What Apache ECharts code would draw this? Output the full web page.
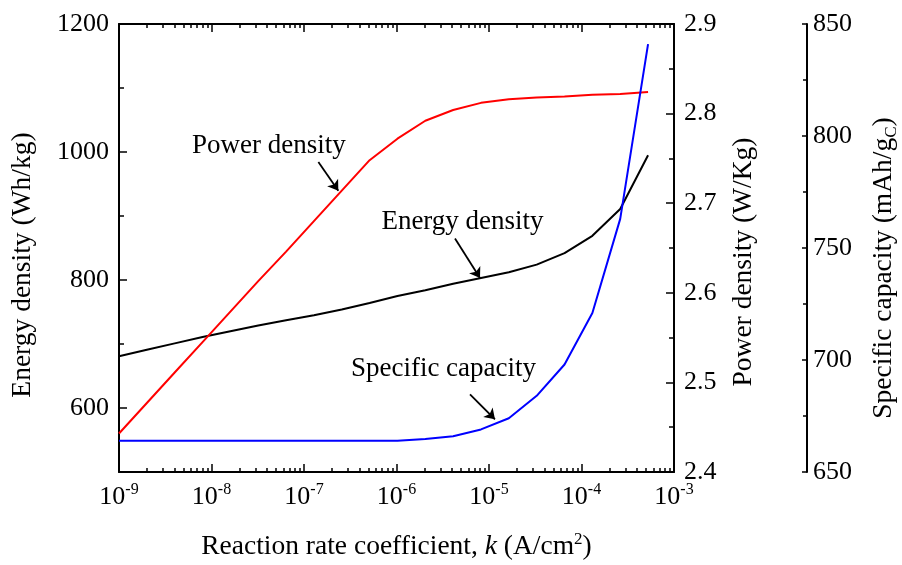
<!DOCTYPE html>
<html>
<head>
<meta charset="utf-8">
<title>Energy / power density vs reaction rate coefficient</title>
<script src="https://cdn.jsdelivr.net/npm/echarts@6.0.0/dist/echarts.min.js"></script>
</head>
<body style="margin:0;background:#fff;">
<div id="main" style="width:902px;height:565px;"></div>
<script type="text/javascript">
// reaction rate coefficient k (A/cm2), doubling steps from 1e-9
var kValues = [1e-9, 2e-9, 4e-9, 8e-9, 1.6e-8, 3.2e-8, 6.4e-8, 1.28e-7, 2.56e-7, 5.12e-7,
               1.024e-6, 2.048e-6, 4.096e-6, 8.192e-6, 1.6384e-5, 3.2768e-5, 6.5536e-5,
               1.31072e-4, 2.62144e-4, 5.24288e-4];
var energyDensity = [681, 691, 701, 711, 720, 729, 737, 745, 754, 764,
                     775, 784, 794, 803, 812, 824, 842, 869, 911, 995];
var powerDensity = [2.443, 2.477, 2.511, 2.545, 2.579, 2.613, 2.646, 2.680, 2.714, 2.748,
                    2.772, 2.792, 2.804, 2.812, 2.816, 2.818, 2.819, 2.821, 2.822, 2.824];
var specificCapacity = [664, 664, 664, 664, 664, 664, 664, 664, 664, 664,
                        664, 664.7, 666, 669, 674, 684, 698, 721, 763, 841];

// tick labels
var energyTicks = [600, 800, 1000, 1200];
var energyMinorTicks = [700, 900, 1100];

// annotations: text position and arrow [tail, head], in data units
var powerNote = {text: 'Power density', at: [4.18e-8, 2.764], tail: [1.43e-7, 2.746], head: [2.35e-7, 2.714]};
var energyNote = {text: 'Energy density', at: [5.17e-6, 890], tail: [4.29e-6, 865], head: [7.99e-6, 803]};
var capacityNote = {text: 'Specific capacity', at: [3.22e-6, 696], tail: [6.23e-6, 684.7], head: [1.16e-5, 673.5]};

var FONT = "'Liberation Serif', 'Times New Roman', serif";
var BLACK = '#000';
var TITLE_SIZE = 27.5;

// minor log ticks (2..9 x decade) as log10 values for overlay axes
var minorLog = [];
for (var d = -9; d < -3; d++) {
    for (var m = 2; m <= 9; m++) minorLog.push(d + Math.log10(m));
}

function pairs(ys) {
    return kValues.map(function (k, i) { return [k, ys[i]]; });
}

function note(n) {
    return {
        markLine: {
            silent: true,
            symbol: ['none', 'arrow'],
            symbolSize: 10,
            lineStyle: {color: BLACK, width: 1.8, type: 'solid'},
            label: {show: false},
            data: [[{coord: n.tail}, {coord: n.head}]]
        },
        markPoint: {
            silent: true,
            symbol: 'circle',
            symbolSize: 1,
            itemStyle: {color: 'transparent'},
            label: {show: true, position: 'inside', formatter: n.text, color: BLACK,
                    fontSize: 27, fontFamily: FONT},
            data: [{coord: n.at}]
        }
    };
}

var axisLine = {show: true, lineStyle: {color: BLACK, width: 2}};

var mychart = echarts.init(document.getElementById('main'));
var option = {
    animation: false,
    backgroundColor: '#fff',
    grid: {left: 119, right: 228, top: 24, bottom: 93, outerBoundsMode: 'none', containLabel: false},
    xAxis: [
        {
            type: 'log', logBase: 10, min: 1e-9, max: 1e-3, position: 'bottom',
            axisLine: axisLine,
            axisTick: {inside: true, length: 8, lineStyle: {color: BLACK, width: 1.5}},
            splitLine: {show: false},
            axisLabel: {
                margin: 10,
                formatter: function (v) {
                    var e = Math.round(Math.log10(v));
                    return '{b|10}{s|' + e + '}';
                },
                rich: {
                    b: {fontSize: 26, fontFamily: FONT, color: BLACK, lineHeight: 30},
                    s: {fontSize: 16, fontFamily: FONT, color: BLACK, verticalAlign: 'top', lineHeight: 30}
                }
            },
            name: 'Reaction rate coefficient, {i|k} (A/cm{s|2})',
            nameLocation: 'middle',
            nameGap: 59,
            nameTextStyle: {
                fontSize: TITLE_SIZE, fontFamily: FONT, color: BLACK,
                rich: {
                    i: {fontSize: TITLE_SIZE, fontFamily: FONT, fontStyle: 'italic', color: BLACK, lineHeight: 32},
                    s: {fontSize: 17, fontFamily: FONT, color: BLACK, verticalAlign: 'top', lineHeight: 32}
                }
            }
        },
        {
            type: 'log', logBase: 10, min: 1e-9, max: 1e-3, position: 'top',
            axisLine: axisLine,
            axisTick: {inside: true, length: 8, lineStyle: {color: BLACK, width: 1.5}},
            axisLabel: {show: false},
            splitLine: {show: false}
        },
        {
            type: 'value', min: -9, max: -3, position: 'bottom',
            axisLine: {show: false},
            axisLabel: {show: false},
            splitLine: {show: false},
            axisTick: {inside: true, length: 4, customValues: minorLog, lineStyle: {color: BLACK, width: 1.5}}
        },
        {
            type: 'value', min: -9, max: -3, position: 'top',
            axisLine: {show: false},
            axisLabel: {show: false},
            splitLine: {show: false},
            axisTick: {inside: true, length: 4, customValues: minorLog, lineStyle: {color: BLACK, width: 1.5}}
        }
    ],
    yAxis: [
        {
            type: 'value', min: 500, max: 1200, position: 'left',
            axisLine: axisLine,
            splitLine: {show: false},
            axisTick: {inside: true, length: 8, customValues: energyTicks, lineStyle: {color: BLACK, width: 1.5}},
            axisLabel: {
                customValues: energyTicks, margin: 10, fontSize: 26, fontFamily: FONT, color: BLACK,
                formatter: function (v) { return String(v); }
            },
            name: 'Energy density (Wh/kg)',
            nameLocation: 'middle', nameRotate: 90, nameGap: 82,
            nameTextStyle: {fontSize: TITLE_SIZE, fontFamily: FONT, color: BLACK, padding: [0, 34, 0, 0]}
        },
        {
            type: 'value', min: 500, max: 1200, position: 'left',
            axisLine: {show: false},
            splitLine: {show: false},
            axisLabel: {show: false},
            axisTick: {inside: true, length: 5, customValues: energyMinorTicks, lineStyle: {color: BLACK, width: 1.5}}
        },
        {
            type: 'value', min: 2.4, max: 2.9, interval: 0.1, position: 'right',
            axisLine: axisLine,
            splitLine: {show: false},
            axisTick: {inside: true, length: 8, lineStyle: {color: BLACK, width: 1.5}},
            minorTick: {show: true, splitNumber: 2, length: 5, lineStyle: {color: BLACK, width: 1.5}},
            axisLabel: {
                margin: 10, fontSize: 26, fontFamily: FONT, color: BLACK,
                formatter: function (v) { return v.toFixed(1); }
            },
            name: 'Power density (W/Kg)',
            nameLocation: 'middle', nameRotate: 90, nameGap: 56,
            nameTextStyle: {fontSize: TITLE_SIZE, fontFamily: FONT, color: BLACK, padding: [0, 28, 0, 0]}
        },
        {
            type: 'value', min: 650, max: 850, interval: 50, position: 'right', offset: 133,
            axisLine: axisLine,
            splitLine: {show: false},
            axisTick: {inside: true, length: 5, lineStyle: {color: BLACK, width: 1.5}},
            minorTick: {show: true, splitNumber: 2, length: 4, lineStyle: {color: BLACK, width: 1.5}},
            axisLabel: {margin: 6, fontSize: 26, fontFamily: FONT, color: BLACK},
            name: 'Specific capacity (mAh/g{sub|C})',
            nameLocation: 'middle', nameRotate: 90, nameGap: 61,
            nameTextStyle: {
                fontSize: TITLE_SIZE, fontFamily: FONT, color: BLACK, padding: [0, 40, 0, 0],
                rich: {
                    sub: {fontSize: 17, fontFamily: FONT, color: BLACK, verticalAlign: 'bottom', lineHeight: 32}
                }
            }
        }
    ],
    series: [
        Object.assign({
            name: 'Energy density', type: 'line', xAxisIndex: 0, yAxisIndex: 0,
            data: pairs(energyDensity), symbol: 'none',
            lineStyle: {color: BLACK, width: 2}, itemStyle: {color: BLACK}
        }, note(energyNote)),
        Object.assign({
            name: 'Power density', type: 'line', xAxisIndex: 0, yAxisIndex: 2,
            data: pairs(powerDensity), symbol: 'none',
            lineStyle: {color: '#ff0000', width: 2}, itemStyle: {color: '#ff0000'}
        }, note(powerNote)),
        Object.assign({
            name: 'Specific capacity', type: 'line', xAxisIndex: 0, yAxisIndex: 3,
            data: pairs(specificCapacity), symbol: 'none',
            lineStyle: {color: '#0000ff', width: 2}, itemStyle: {color: '#0000ff'}
        }, note(capacityNote))
    ]
};
mychart.setOption(option);
</script>
</body>
</html>
